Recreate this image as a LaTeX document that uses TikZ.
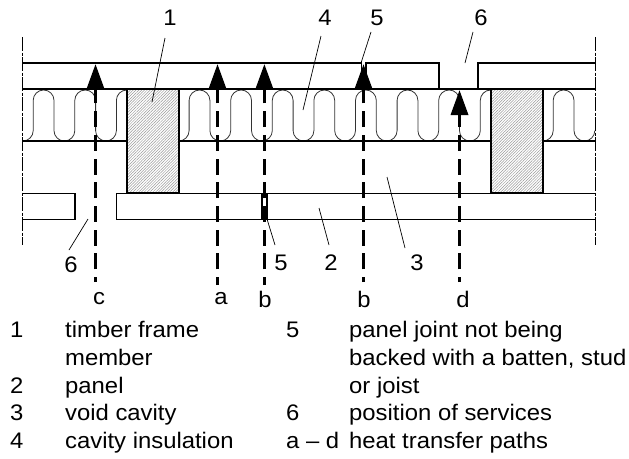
\documentclass[tikz,border=0pt]{standalone}
\usepackage{fontspec}
\setmainfont{Liberation Sans}
\usetikzlibrary{arrows.meta,patterns.meta}
\tikzset{
  wall/.style={line width=1.5pt},
  wave/.style={line width=0.8pt,black!80},
  edge/.style={line width=0.9pt,dash pattern=on 14pt off 1.5pt on 3pt off 1.5pt},
  stud/.style={line width=1.8pt,pattern={Lines[angle=45,distance=2pt,line width=0.5pt]},pattern color=black!40},
  leader/.style={line width=0.7pt},
  heat/.style={line width=3.4pt,dash pattern=on 16pt off 7.7pt},
  headtop/.style={-{Triangle[length=25pt,width=17pt]}},
  num/.style={inner sep=0pt,font=\fontsize{22.5}{27}\selectfont,xscale=1.06},
  leg/.style={num,anchor=base west},
}
\begin{document}
\begin{tikzpicture}[x=1pt,y=-1pt]
  \useasboundingbox (0,0) rectangle (629,458);

  % insulation
  \draw[wave] (22.8,141) arc(90:0:10.4)
    foreach \k in {1,2} {-- ++(0,-30.2) arc(180:360:10.4) -- ++(0,30.2) arc(180:0:10.4)}
    -- ++(0,-30.2) arc(180:270:10.4);
  \draw[wave] (178.7,141) arc(90:0:10.4)
    foreach \k in {1,...,7} {-- ++(0,-30.2) arc(180:360:10.4) -- ++(0,30.2) arc(180:0:10.4)}
    -- ++(0,-30.2) arc(180:270:10.4);
  \draw[wave] (542.8,141) arc(90:0:10.4)
    -- ++(0,-30.2) arc(180:360:10.4) -- ++(0,30.2) arc(180:0:10.4);

  % boards
  \draw[wall] (23,63) -- (361.5,63) -- (361.5,89);
  \draw[wall] (365.8,89) -- (365.8,63) -- (438.8,63) -- (438.8,89);
  \draw[wall] (477.8,89) -- (477.8,63) -- (595,63);
  \draw[wall] (23,89) -- (595,89);
  \draw[wall] (23,141) -- (127,141);
  \draw[wall] (178.7,141) -- (491,141);
  \draw[wall] (542.8,141) -- (595,141);
  \draw[wall] (23,193.3) -- (75,193.3) -- (75,219.3) -- (23,219.3);
  \draw[wall] (595,193.3) -- (116.3,193.3) -- (116.3,219.3) -- (595,219.3);
  \draw[wall,fill=white] (261.9,193.3) rectangle (266.8,219.3);

  % timber members
  \draw[stud] (127,89) rectangle (178.7,193.3);
  \draw[stud] (491,89) rectangle (542.8,193.3);

  % section ends
  \draw[edge] (22.8,37) -- (22.8,245);
  \draw[edge] (595,37) -- (595,245);

  % heat paths
  \coordinate (c0) at (95.5,282);
  \coordinate (c1) at (95.5,64);
  \coordinate (a0) at (217.5,285);
  \coordinate (a1) at (217.5,64);
  \coordinate (b0) at (264.4,285);
  \coordinate (b1) at (264.4,64);
  \coordinate (e0) at (363.5,282);
  \coordinate (e1) at (363.5,64);
  \coordinate (d0) at (459.5,282);
  \coordinate (d1) at (459.5,90);
  \draw[heat,headtop,dash phase=11pt] (c0)--(c1);
  \draw[heat,headtop,dash phase=8pt] (a0)--(a1);
  \draw[heat,headtop,dash phase=8pt] (b0)--(b1);
  \draw[heat,headtop,dash phase=11pt] (e0)--(e1);
  \draw[heat,headtop,dash phase=11pt] (d0)--(d1);

  % path letters
  \node[num] (pc) at (99,299) {c};
  \node[num] (pa) at (221,299) {a};
  \node[num] (pb) at (265,299) {b};
  \node[num] (pe) at (364,299) {b};
  \node[num] (pd) at (463,299) {d};

  % callouts
  \node[num] (n1) at (170,18) {1};
  \node[num] (n4) at (325,18) {4};
  \node[num] (n5) at (377,18) {5};
  \node[num] (n6) at (481,18) {6};
  \node[num] (m6) at (71,265) {6};
  \node[num] (m5) at (281,263) {5};
  \node[num] (m2) at (331,263) {2};
  \node[num] (m3) at (417,263) {3};

  \coordinate (t1) at (152,102);
  \coordinate (t4) at (303,110);
  \coordinate (t5) at (361,63);
  \coordinate (t6) at (465,63);
  \coordinate (u6) at (88,219);
  \coordinate (u5) at (267,219);
  \coordinate (u2) at (319,208);
  \coordinate (u3) at (387,177);
  \draw[leader] (165,38) -- (t1);
  \draw[leader] (321,36) -- (t4);
  \draw[leader] (371,32) -- (t5);
  \draw[leader] (473,32) -- (t6);
  \draw[leader] (69,250) -- (u6);
  \draw[leader] (275,245) -- (u5);
  \draw[leader] (329,245) -- (u2);
  \draw[leader] (405,248) -- (u3);

  % key
  \node[leg] (k1) at (10,337.7) {1};
  \node[leg] (k1a) at (65,337.7) {timber frame};
  \node[leg] (k1b) at (65,365.4) {member};
  \node[leg] (k2) at (10,393) {2};
  \node[leg] (k2a) at (65,393) {panel};
  \node[leg] (k3) at (10,420.8) {3};
  \node[leg] (k3a) at (65,420.8) {void cavity};
  \node[leg] (k4) at (10,448.5) {4};
  \node[leg] (k4a) at (65,448.5) {cavity insulation};
  \node[leg] (k5) at (286,337.7) {5};
  \node[leg] (k5a) at (349,337.7) {panel joint not being};
  \node[leg] (k5b) at (349,365.4) {backed with a batten, stud};
  \node[leg] (k5c) at (349,393) {or joist};
  \node[leg] (k6) at (286,420.8) {6};
  \node[leg] (k6a) at (349,420.8) {position of services};
  \node[leg] (k7) at (286,448.5) {a -- d};
  \node[leg] (k7a) at (349,448.5) {heat transfer paths};
\end{tikzpicture}
\end{document}
